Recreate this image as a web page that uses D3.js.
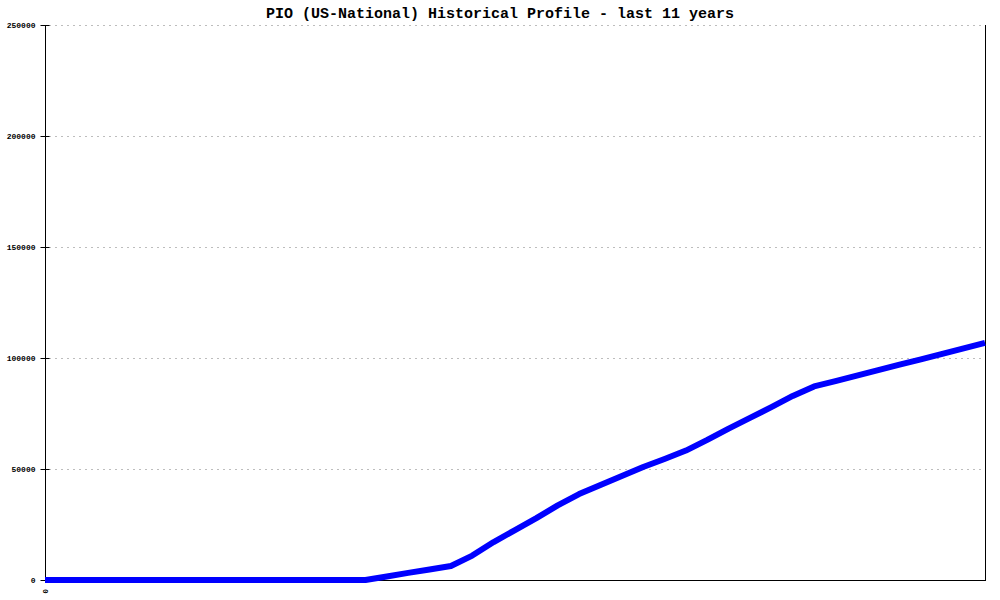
<!DOCTYPE html>
<html>
<head>
<meta charset="utf-8">
<script src="https://cdn.jsdelivr.net/npm/d3@7"></script>
<style>
  html, body { margin: 0; padding: 0; background: #fff; }
  svg { display: block; }
</style>
</head>
<body>
<svg id="chart" width="1000" height="600"></svg>
<script>
const title = "PIO (US-National) Historical Profile - last 11 years";
// quarter index since start of 11-year window
const quarters = d3.range(0, 45);
const values = [
  0, 0, 0, 0, 0, 0, 0, 0, 0, 0, 0, 0, 0, 0, 0, 0,
  1600, 3200, 4700, 6300, 11000, 17100, 22500, 27900, 33600, 38700,
  42800, 46800, 50900, 54500, 58300, 63100, 68200, 73000, 77900, 82900,
  87200, 89600, 92100, 94500, 97000, 99400, 101900, 104300, 106800
];
const yTicks = [0, 50000, 100000, 150000, 200000, 250000];
const xTickValues = [0];
const xTickLabels = ["0"];

const svg = d3.select("#chart");
const mLeft = 45, mRight = 985, mTop = 25, mBottom = 580;
const x = d3.scaleLinear().domain([0, 44]).range([mLeft, mRight]);
const y = d3.scaleLinear().domain([0, 250000]).range([mBottom, mTop]);
const mono = "'Liberation Mono', 'DejaVu Sans Mono', monospace";

// grid lines
svg.append("g").selectAll("line")
  .data(yTicks.filter(d => d > 0))
  .join("line")
  .attr("x1", mLeft + 4).attr("x2", mRight)
  .attr("y1", d => y(d) + 0.5).attr("y2", d => y(d) + 0.5)
  .attr("stroke", "#bdbdbd").attr("stroke-width", 1)
  .attr("stroke-dasharray", "2,4");

// y axis
const yAxis = svg.append("g")
  .attr("transform", `translate(${mLeft + 0.5},0)`)
  .call(d3.axisLeft(y).tickValues(yTicks).tickSize(5).tickPadding(5).tickFormat(d3.format("d")));
yAxis.select(".domain").remove();
yAxis.selectAll(".tick line").attr("x1", 4).attr("x2", -5).attr("stroke", "#000");
yAxis.selectAll(".tick text")
  .attr("font-family", mono).attr("font-size", 8).attr("font-weight", "bold")
  .attr("fill", "#000").attr("x", -10);

// x axis labels
const xAxis = svg.append("g")
  .attr("transform", `translate(0,${mBottom})`)
  .call(d3.axisBottom(x).tickValues(xTickValues).tickSize(0)
    .tickFormat((d, i) => xTickLabels[i]));
xAxis.select(".domain").remove();
xAxis.selectAll(".tick text")
  .attr("font-family", mono).attr("font-size", 8).attr("font-weight", "bold")
  .attr("fill", "#000")
  .attr("transform", "rotate(-90)")
  .attr("text-anchor", "end")
  .attr("dy", "0.32em")
  .attr("y", 0).attr("x", -9);

// frame lines
svg.append("line").attr("x1", mLeft + 0.5).attr("x2", mLeft + 0.5).attr("y1", mTop).attr("y2", mBottom + 0.5)
  .attr("stroke", "#000").attr("stroke-width", 1);
svg.append("line").attr("x1", mRight + 0.5).attr("x2", mRight + 0.5).attr("y1", mTop).attr("y2", mBottom + 0.5)
  .attr("stroke", "#000").attr("stroke-width", 1);
svg.append("line").attr("x1", mLeft).attr("x2", mRight + 1).attr("y1", mBottom + 0.5).attr("y2", mBottom + 0.5)
  .attr("stroke", "#000").attr("stroke-width", 1);

// data line
const line = d3.line().x((d, i) => x(quarters[i])).y(d => y(d));
svg.append("path")
  .datum(values)
  .attr("d", line)
  .attr("fill", "none")
  .attr("stroke", "#0000ff")
  .attr("stroke-width", 6)
  .attr("stroke-linejoin", "round");

// title
svg.append("text")
  .attr("x", 500).attr("y", 18)
  .attr("text-anchor", "middle")
  .attr("font-family", mono).attr("font-size", 15).attr("font-weight", "bold")
  .attr("fill", "#000")
  .text(title);
</script>
</body>
</html>
